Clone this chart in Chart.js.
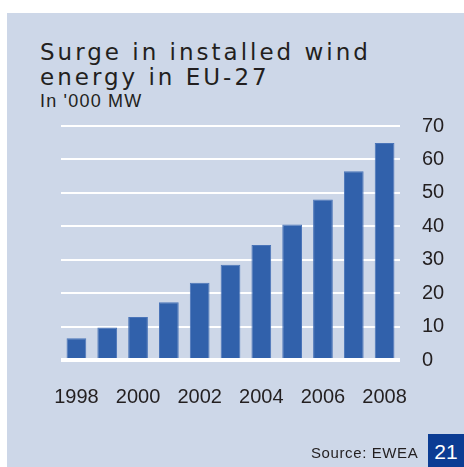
<!DOCTYPE html>
<html>
<head>
  <title>Surge in installed wind energy in EU-27</title>
  <script src="https://cdn.jsdelivr.net/npm/chart.js"></script>
  <style>
    html, body { margin: 0; padding: 0; background: #fff; }
    body { width: 464px; height: 467px; position: relative; overflow: hidden; }
    .panel { position: absolute; left: 7px; top: 13px; width: 457px; height: 454px; background: #cdd7e8; }
    .title { position: absolute; left: 40px; top: 40px; font-family: "DejaVu Sans", sans-serif; font-size: 23px; line-height: 25px; letter-spacing: 3px; color: #231f20; }
    .sub { position: absolute; left: 40px; top: 91px; font-family: "Liberation Sans", Arial, sans-serif; font-size: 18px; line-height: 20px; letter-spacing: 1.2px; color: #231f20; }
    .source { position: absolute; left: 311px; top: 444px; font-family: "Liberation Sans", Arial, sans-serif; font-size: 15px; line-height: 17px; letter-spacing: 0.6px; color: #231f20; }
    .page { position: absolute; left: 428px; top: 434px; width: 36px; height: 33px; background: #0b3c93; color: #fff; font-family: "Liberation Sans", Arial, sans-serif; font-size: 21px; line-height: 36px; text-align: center; }
    #chart { position: absolute; left: 0; top: 0; }
  </style>
</head>
<body>
  <div class="panel"></div>
  <div class="title">Surge in installed wind<br>energy in EU-27</div>
  <div class="sub">In '000 MW</div>
  <canvas id="chart" width="464" height="467"></canvas>
  <div class="source">Source: EWEA</div>
  <div class="page">21</div>

  <script>
    const years = ['1998', '1999', '2000', '2001', '2002', '2003', '2004', '2005', '2006', '2007', '2008'];
    const capacity = [6.5, 9.7, 12.9, 17.3, 23.1, 28.5, 34.4, 40.5, 48.0, 56.5, 64.9];
    const yTicks = [0, 10, 20, 30, 40, 50, 60, 70];

    const labelFont = { family: '"Liberation Sans", Arial, sans-serif', size: 20 };

    new Chart(document.getElementById('chart').getContext('2d'), {
      type: 'bar',
      data: {
        labels: years,
        datasets: [{
          label: "In '000 MW",
          data: capacity,
          backgroundColor: '#3161ab',
          borderColor: '#4a74b8',
          borderWidth: 1,
          categoryPercentage: 1,
          barPercentage: 0.64
        }]
      },
      options: {
        responsive: false,
        animation: false,
        layout: { padding: { left: 61, right: 18, top: 126, bottom: 51 } },
        plugins: {
          legend: { display: false },
          tooltip: { enabled: false }
        },
        scales: {
          x: {
            grid: { display: false, drawTicks: false },
            border: { display: false },
            afterFit: (axis) => { axis.height = 56; },
            ticks: {
              autoSkip: false,
              maxRotation: 0,
              padding: 25,
              color: '#231f20',
              font: labelFont,
              callback: (v, i) => (i % 2 === 0 ? years[i] : '')
            }
          },
          y: {
            position: 'right',
            min: yTicks[0],
            max: yTicks[yTicks.length - 1],
            border: { display: false },
            grid: {
              color: '#ffffff',
              drawTicks: false,
              lineWidth: (ctx) => (ctx.tick && ctx.tick.value === 0 ? 4 : 2)
            },
            afterBuildTicks: (axis) => { axis.ticks = yTicks.map(v => ({ value: v })); },
            afterFit: (axis) => { axis.width = 46; },
            ticks: {
              padding: 22,
              color: '#231f20',
              font: labelFont
            }
          }
        }
      }
    });
  </script>
</body>
</html>
